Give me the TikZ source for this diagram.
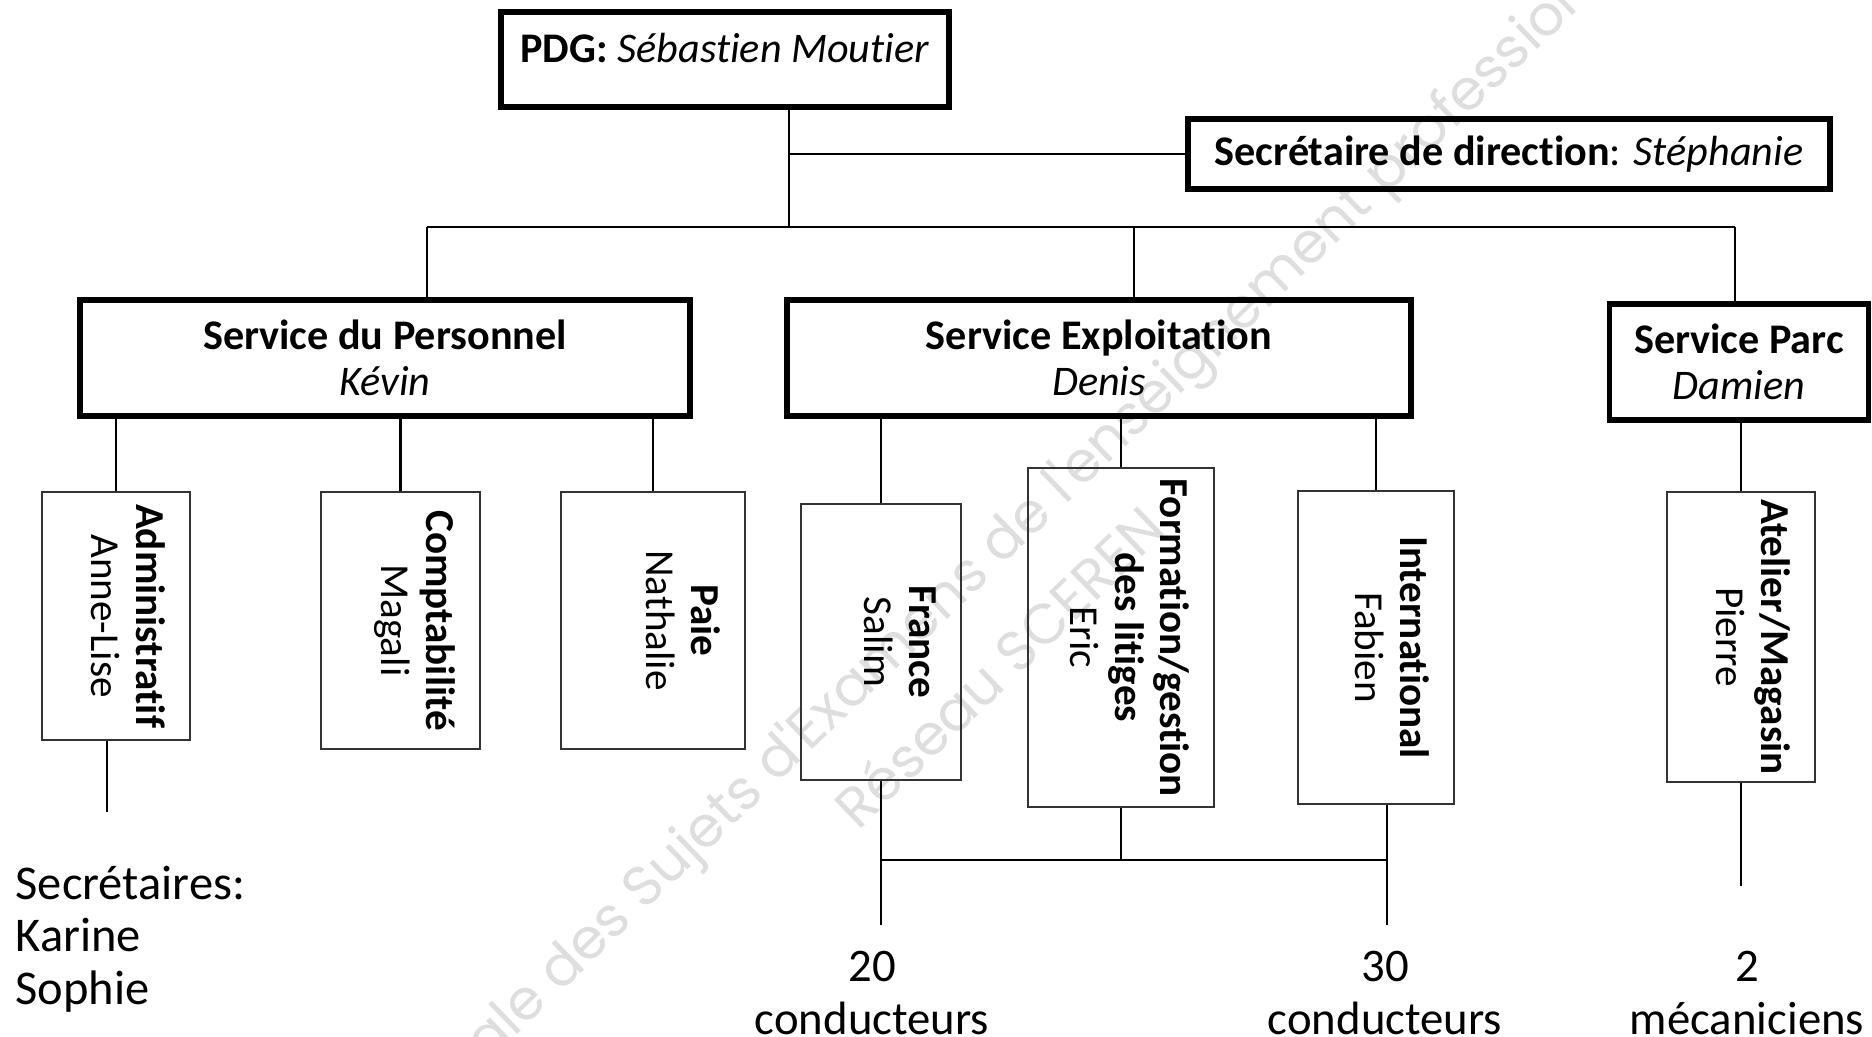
\documentclass[tikz,border=0pt]{standalone}
\usepackage{fontspec}
\setmainfont{Carlito}[Ligatures={NoCommon,NoContextual}]
\newfontfamily\wmfont{Poppins}
\usetikzlibrary{calc}

\begin{document}
\begin{tikzpicture}[
    bigbox/.style={draw, line width=1.7pt, inner sep=0pt, align=center, font=\fontsize{12}{13}\selectfont},
    smallbox/.style={draw=black!80, line width=0.5pt, inner sep=0pt},
    vtext/.style={rotate=-90, anchor=north, inner sep=0pt, align=center, font=\fontsize{11.7}{12.8}\selectfont},
    conn/.style={line width=0.6pt},
    foot/.style={inner sep=0pt, align=center, font=\fontsize{13.3}{14.8}\selectfont},
    wmark/.style={rotate=44, text=black!13, inner sep=0pt, font=\wmfont\fontsize{16}{19}\selectfont}]
    \useasboundingbox (0,0) rectangle (18.72,-10.37);
    % filigrane
    \begin{scope}
        \clip (0,0) rectangle (18.72,-10.37);
        \node[wmark] (wm1) at (9.41,-6.05) {Base Nationale des Sujets d'Examens de l'enseignement professionnel};
        \node[wmark] (wm2) at (9.98,-6.66) {Réseau SCEREN};
    \end{scope}
    % direction
    \node[bigbox, minimum width=4.48cm, minimum height=0.95cm] (pdg) at (7.25,-0.595) {};
    \node[inner sep=0pt, font=\fontsize{12}{13}\selectfont] (pdgtxt) at (7.25,-0.48) {\textbf{PDG:} \textit{Sébastien Moutier}};
    \node[bigbox, minimum width=6.42cm, minimum height=0.70cm] (secr) at (15.09,-1.54) {\textbf{Secrétaire de direction}: \textit{Stéphanie}};
    % services
    \node[bigbox, minimum width=6.10cm, minimum height=1.16cm] (pers) at (3.85,-3.58) {\textbf{Service du Personnel}\\\textit{Kévin}};
    \node[bigbox, minimum width=6.24cm, minimum height=1.16cm] (expl) at (10.99,-3.58) {\textbf{Service Exploitation}\\\textit{Denis}};
    \node[bigbox, minimum width=2.59cm, minimum height=1.16cm] (parc) at (17.39,-3.62) {\textbf{Service Parc}\\\textit{Damien}};
    % cellules
    \node[smallbox, minimum width=1.48cm, minimum height=2.48cm] (admin) at (1.16,-6.16) {};
    \node[smallbox, minimum width=1.59cm, minimum height=2.57cm] (compta) at (4.005,-6.205) {};
    \node[smallbox, minimum width=1.84cm, minimum height=2.57cm] (paie) at (6.53,-6.205) {};
    \node[smallbox, minimum width=1.60cm, minimum height=2.76cm] (france) at (8.81,-6.42) {};
    \node[smallbox, minimum width=1.86cm, minimum height=3.39cm] (form) at (11.21,-6.375) {};
    \node[smallbox, minimum width=1.56cm, minimum height=3.13cm] (inter) at (13.76,-6.475) {};
    \node[smallbox, minimum width=1.48cm, minimum height=2.90cm] (atel) at (17.41,-6.37) {};
    \foreach \c/\t/\n in {admin/Administratif/Anne-Lise, compta/Comptabilité/Magali, paie/Paie/Nathalie,
                          france/France/Salim, inter/International/Fabien, atel/Atelier\slash Magasin/Pierre} {
        \node[vtext] (\c txt) at ($(\c.east)+(-0.25,0)$) {\textbf{\t}\\\n};
    }
    \node[vtext] (formtxt) at ($(form.east)+(-0.25,0)$) {\textbf{Formation/gestion}\\\textbf{des litiges}\\Eric};
    % liaisons
    \coordinate (ptop) at (7.89,-2.27);
    \coordinate (b1) at (4.27,-2.27);
    \coordinate (b2) at (11.34,-2.27);
    \coordinate (b3) at (17.35,-2.27);
    \draw[conn] (ptop |- pdg.south) -- (ptop);
    \draw[conn] (secr.west) -- (secr.west -| ptop);
    \draw[conn] (b1) -- (b3);
    \draw[conn] (b1) -- (b1 |- pers.north);
    \draw[conn] (b2) -- (b2 |- expl.north);
    \draw[conn] (b3) -- (b3 |- parc.north);
    \foreach \c/\p in {admin/pers, compta/pers, paie/pers, france/expl, form/expl, inter/expl, atel/parc} {
        \draw[conn] (\c.north) -- (\c.north |- \p.south);
    }
    % effectifs
    \coordinate (aend) at (1.07,-8.12);
    \coordinate (fend) at (8.81,-9.25);
    \coordinate (iend) at (13.87,-9.25);
    \coordinate (cbus) at (0,-8.60);
    \coordinate (pend) at (17.41,-8.86);
    \draw[conn] (admin.south -| aend) -- (aend);
    \draw[conn] (france.south) -- (fend);
    \draw[conn] (inter.south -| iend) -- (iend);
    \draw[conn] (form.south) -- (form.south |- cbus);
    \draw[conn] (fend |- cbus) -- (iend |- cbus);
    \draw[conn] (atel.south) -- (pend);
    \node[foot, anchor=west, align=left, font=\fontsize{13.8}{14.9}\selectfont] (secs) at (0.15,-9.39) {Secrétaires:\\Karine\\Sophie};
    \node[foot] (n20) at (8.72,-9.93) {20\\conducteurs};
    \node[foot] (n30) at (13.85,-9.93) {30\\conducteurs};
    \node[foot] (n2) at (17.47,-9.93) {2\\mécaniciens};
\end{tikzpicture}
\end{document}
